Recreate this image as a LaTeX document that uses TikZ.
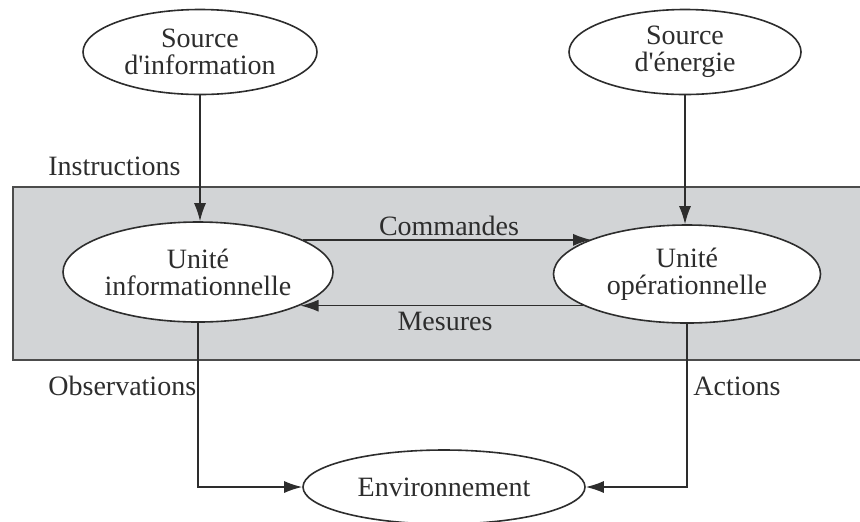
\documentclass[tikz,border=0pt]{standalone}
\usepackage{fontspec}
\setmainfont{Liberation Serif}
\newfontfamily\rawserif{Liberation Serif}
\usetikzlibrary{shapes.geometric,arrows.meta,calc}
\definecolor{boxgray}{RGB}{210,212,214}
\definecolor{ink}{RGB}{45,45,45}
\newcommand{\apos}{{\rawserif'}}
\begin{document}
\begin{tikzpicture}[x=0.5pt,y=-0.5pt,
  every node/.style={font=\fontsize{14}{13.5}\selectfont, text=ink},
  unit/.style={ellipse, draw=ink, line width=0.8pt, fill=white, inner sep=0pt, align=center},
  lab/.style={inner sep=0pt},
  arr/.style={draw=ink, line width=0.7pt, -{Latex[length=9pt,width=6pt]}},
  ln/.style={draw=ink, line width=0.7pt}]
\useasboundingbox (0,0) rectangle (860,521);
\clip (0,0) rectangle (860,521);
% system box
\draw[draw=ink!85, line width=1pt, fill=boxgray] (13,187) rectangle (880,360);
% nodes
\node[unit, minimum width=117pt, minimum height=42.5pt] (si) at (200,52) {Source\\d\apos information};
\node[unit, minimum width=116pt, minimum height=42.5pt] (se) at (685,52) {Source\\d\apos énergie};
\node[unit, minimum width=135pt, minimum height=50pt] (ui) at (198,272) {Unité\\informationnelle};
\node[unit, minimum width=133.5pt, minimum height=49pt] (uo) at (687,274) {Unité\\opérationnelle};
\node[unit, minimum width=141pt, minimum height=37pt] (env) at (444,487) {Environnement};
% labels
\node[lab, anchor=base west] (instr) at (48,175) {Instructions};
\node[lab, anchor=base] (cmd) at (449,235) {Commandes};
\node[lab, anchor=base] (mes) at (445,330) {Mesures};
\node[lab, anchor=base west] (obs) at (48,395) {Observations};
\node[lab, anchor=base west] (act) at (693,395) {Actions};
% connectors
\draw[arr] (si.south) -- (si.south |- ui.north);
\draw[arr] (se.south) -- (se.south |- uo.north);
\coordinate (c1) at (ui.17);
\draw[arr] (c1) -- (c1 -| uo.160);
\coordinate (c2) at (uo.197);
\draw[arr] (c2) -- (c2 -| ui.-18);
\draw[arr] (ui.south) |- (env.west);
\draw[arr] (uo.south) |- (env.east);
\end{tikzpicture}
\end{document}
